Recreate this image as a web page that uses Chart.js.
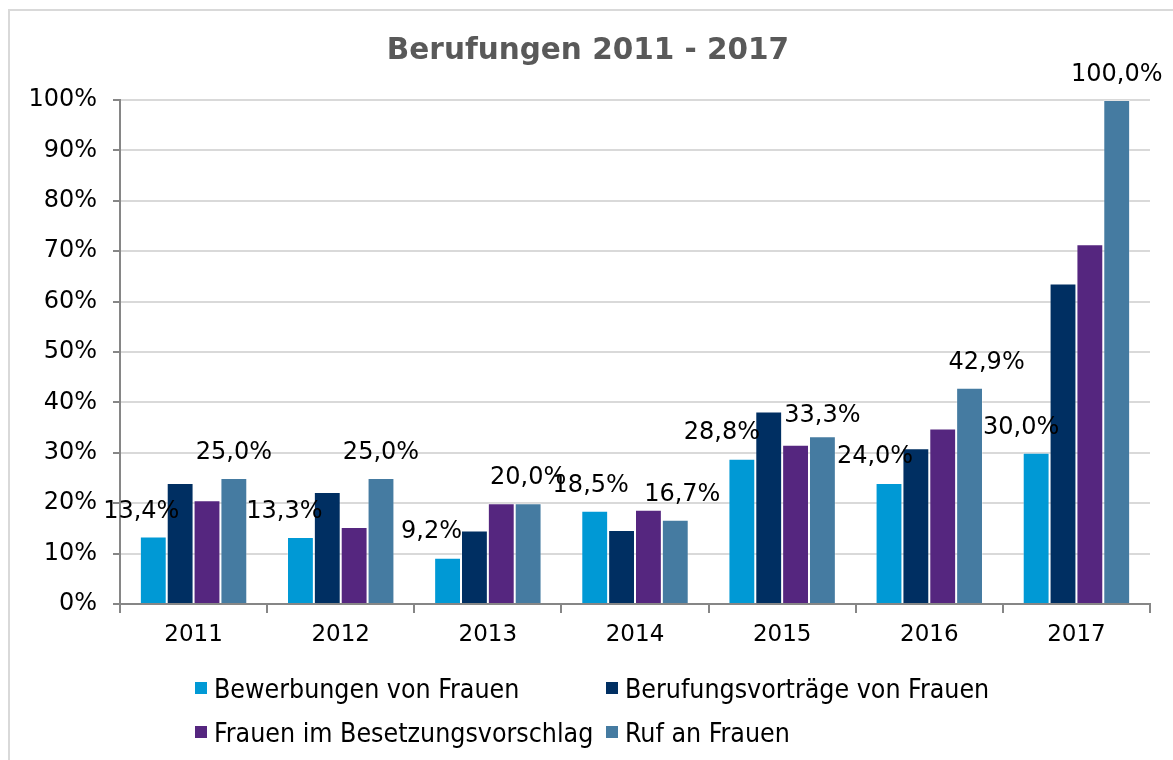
<!DOCTYPE html>
<html lang="de">
<head>
<meta charset="utf-8">
<title>Berufungen 2011 - 2017</title>
<script src="https://cdn.jsdelivr.net/npm/chart.js"></script>
<style>
  body { margin: 0; background: #fff; }
  .rahmen { position: absolute; left: 8px; top: 9px; width: 1200px; height: 800px; border: 2px solid #d9d9d9; }
  .wrap { position: absolute; left: 0; top: 0; width: 1173px; height: 760px; }
  .legende { position: absolute; left: 195px; top: 673px; display: grid;
             grid-template-columns: 411px 400px; row-gap: 14px;
             font-family: "DejaVu Sans Condensed", "DejaVu Sans"; font-size: 26.5px; color: #000; }
  .legende div { display: flex; align-items: center; height: 30px; white-space: nowrap; }
  .legende span.box { width: 12px; height: 12px; margin-right: 7px; display: inline-block; }
</style>
</head>
<body>
<div class="rahmen"></div>
<div class="wrap">
  <canvas id="berufungen" width="1173" height="760"></canvas>
</div>
<div class="legende" id="legende"></div>

<script>
  const jahre = ['2011', '2012', '2013', '2014', '2015', '2016', '2017'];

  const bewerbungen = [13.4, 13.3, 9.2, 18.5, 28.8, 24.0, 30.0];
  const vortraege = [24.0, 22.2, 14.6, 14.7, 38.2, 30.9, 63.6];
  const vorschlag = [20.6, 15.3, 20.0, 18.7, 31.6, 34.8, 71.4];
  const ruf = [25.0, 25.0, 20.0, 16.7, 33.3, 42.9, 100.0];

  const serien = ['Bewerbungen von Frauen', 'Berufungsvorträge von Frauen',
                  'Frauen im Besetzungsvorschlag', 'Ruf an Frauen'];
  const farben = ['#0099d5', '#002f62', '#55267f', '#457ba1'];

  // nur Serie 1 und 4 bekommen Beschriftungen, leicht verschoben wie im Original
  const mitLabel = [true, false, false, true];
  const labelDx = [
    [-12, -16, -16, -4, -20, -14, -15],
    null,
    null,
    [0, 0, 0, 7, 0, 17, 0]
  ];
  const labelDy = [
    [-25, -25, -26, -25, -26, -26, -25],
    null,
    null,
    [-25, -25, -25, -25, -20, -25, -25]
  ];

  const werte = [bewerbungen, vortraege, vorschlag, ruf];

  const data = {
    labels: jahre,
    datasets: werte.map(function (w, i) {
      return {
        label: serien[i],
        data: w,
        backgroundColor: farben[i],
        borderColor: 'rgba(255, 255, 255, 0.3)',
        borderWidth: 1,
        borderSkipped: 'bottom'
      };
    })
  };

  const wertLabels = {
    id: 'wertLabels',
    afterDatasetsDraw(chart) {
      const ctx = chart.ctx;
      ctx.save();
      ctx.font = '24px "DejaVu Sans"';
      ctx.fillStyle = '#000';
      ctx.textAlign = 'center';
      ctx.textBaseline = 'middle';
      chart.data.datasets.forEach(function (ds, i) {
        if (!mitLabel[i]) return;
        const meta = chart.getDatasetMeta(i);
        meta.data.forEach(function (bar, j) {
          const txt = ds.data[j].toFixed(1).replace('.', ',') + '%';
          ctx.fillText(txt, bar.x + labelDx[i][j], bar.y + labelDy[i][j]);
        });
      });
      ctx.restore();
    }
  };

  const config = {
    type: 'bar',
    data: data,
    options: {
      responsive: false,
      animation: false,
      layout: { padding: { left: 26, right: 23, top: 0, bottom: 0 } },
      datasets: { bar: { categoryPercentage: 0.73, barPercentage: 1.0 } },
      plugins: {
        legend: { display: false },
        tooltip: { enabled: false },
        title: {
          display: true,
          text: 'Berufungen 2011 - 2017',
          color: '#595959',
          font: { family: 'DejaVu Sans', size: 29.5, weight: 'bold' },
          padding: { top: 34, bottom: 30.6 }
        }
      },
      scales: {
        x: {
          grid: { offset: true, drawOnChartArea: false, tickLength: 9, color: '#868686', lineWidth: 2 },
          border: { color: '#868686', width: 2 },
          ticks: { color: '#000', font: { family: 'DejaVu Sans', size: 23 }, padding: 8 },
          afterFit: function (s) { s.height = 156; }
        },
        y: {
          min: 0,
          max: 100,
          ticks: {
            stepSize: 10,
            color: '#000',
            font: { family: 'DejaVu Sans', size: 24 },
            padding: 16,
            callback: function (v) { return v + '%'; }
          },
          grid: { color: '#d9d9d9', lineWidth: 2, tickLength: 7, tickColor: '#868686' },
          border: { color: '#868686', width: 2 },
          afterFit: function (s) { s.width = 94; }
        }
      }
    },
    plugins: [wertLabels]
  };

  const berufungenChart = new Chart(document.getElementById('berufungen'), config);

  // Legende wie im Original in zwei Spalten
  const legende = document.getElementById('legende');
  serien.forEach(function (name, i) {
    const d = document.createElement('div');
    d.innerHTML = '<span class="box" style="background:' + farben[i] + '"></span>' + name;
    legende.appendChild(d);
  });
</script>
</body>
</html>
